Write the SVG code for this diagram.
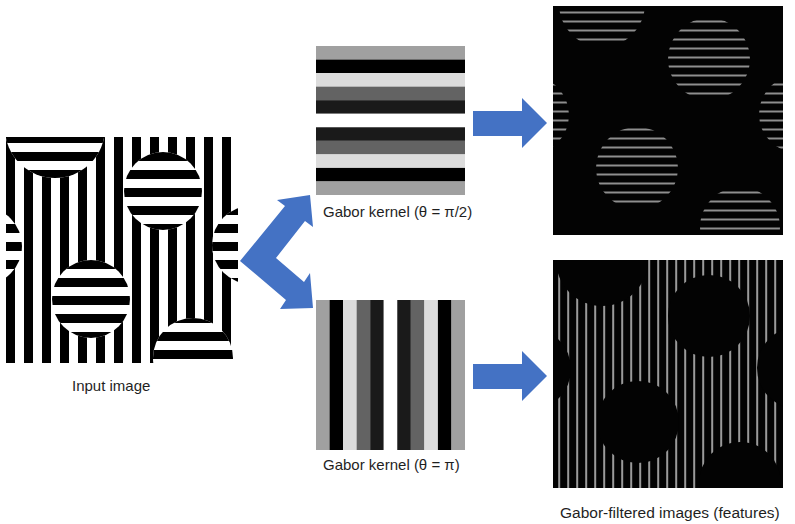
<svg xmlns="http://www.w3.org/2000/svg" width="795" height="524" viewBox="0 0 795 524">
<style>
.lbl{font-family:"Liberation Sans",Arial,sans-serif;font-size:15px;fill:#1f1f1f}
.arrow{fill:#4472c4}
</style>
<defs>
<pattern id="vstripe" patternUnits="userSpaceOnUse" x="6" y="0" width="18" height="18"><rect width="9" height="18" fill="#000"/></pattern>
<pattern id="hstripe" patternUnits="userSpaceOnUse" x="0" y="8" width="18" height="18"><rect width="18" height="9" fill="#000"/></pattern>
<pattern id="hline" patternUnits="userSpaceOnUse" x="0" y="2.5" width="9" height="9"><rect width="9" height="2" fill="#8e8e8e"/></pattern>
<pattern id="vline" patternUnits="userSpaceOnUse" x="0.2" y="0" width="9" height="9"><rect width="2" height="9" fill="#9a9a9a"/></pattern>
<clipPath id="clipIn"><rect x="6" y="137" width="232" height="226"/></clipPath>
<clipPath id="clipOutTop"><rect x="553" y="6" width="230" height="229"/></clipPath>
<clipPath id="clipOutBot"><rect x="553" y="260" width="230" height="228"/></clipPath>
<clipPath id="topCircles">
<circle cx="602" cy="4" r="43"/><circle cx="709" cy="59" r="41"/><circle cx="530" cy="115" r="39"/>
<circle cx="798" cy="114" r="39"/><circle cx="637" cy="168" r="41"/><circle cx="740" cy="227" r="40"/>
</clipPath>
<g id="inCircles">
<circle cx="55" cy="128" r="50"/><circle cx="163" cy="191" r="39"/><circle cx="-17" cy="246" r="39"/>
<circle cx="251" cy="245" r="39"/><circle cx="91" cy="299" r="39"/><circle cx="193" cy="358" r="40"/>
</g>
</defs>
<rect width="795" height="524" fill="#fff"/>

<g id="input-image" clip-path="url(#clipIn)">
<rect x="6" y="137" width="232" height="226" fill="#fff"/>
<rect x="6" y="137" width="232" height="226" fill="url(#vstripe)"/>
<use href="#inCircles" fill="#fff"/>
<use href="#inCircles" fill="url(#hstripe)"/>
</g>

<g id="kernel-top">
<rect x="316" y="46" width="149" height="13.6" fill="#a0a0a0"/>
<rect x="316" y="59.55" width="149" height="13.6" fill="#000"/>
<rect x="316" y="73.09" width="149" height="13.6" fill="#dcdcdc"/>
<rect x="316" y="86.64" width="149" height="13.6" fill="#636363"/>
<rect x="316" y="100.18" width="149" height="13.6" fill="#1a1a1a"/>
<rect x="316" y="113.73" width="149" height="13.6" fill="#fff"/>
<rect x="316" y="127.27" width="149" height="13.6" fill="#1a1a1a"/>
<rect x="316" y="140.82" width="149" height="13.6" fill="#636363"/>
<rect x="316" y="154.36" width="149" height="13.6" fill="#dcdcdc"/>
<rect x="316" y="167.91" width="149" height="13.6" fill="#000"/>
<rect x="316" y="181.45" width="149" height="13.55" fill="#a0a0a0"/>
</g>

<g id="kernel-bottom">
<rect x="316" y="300" width="13.6" height="150" fill="#a0a0a0"/>
<rect x="329.55" y="300" width="13.6" height="150" fill="#000"/>
<rect x="343.09" y="300" width="13.6" height="150" fill="#dcdcdc"/>
<rect x="356.64" y="300" width="13.6" height="150" fill="#636363"/>
<rect x="370.18" y="300" width="13.6" height="150" fill="#1a1a1a"/>
<rect x="383.73" y="300" width="13.6" height="150" fill="#fff"/>
<rect x="397.27" y="300" width="13.6" height="150" fill="#1a1a1a"/>
<rect x="410.82" y="300" width="13.6" height="150" fill="#636363"/>
<rect x="424.36" y="300" width="13.6" height="150" fill="#dcdcdc"/>
<rect x="437.91" y="300" width="13.6" height="150" fill="#000"/>
<rect x="451.45" y="300" width="13.55" height="150" fill="#a0a0a0"/>
</g>

<g id="output-top" clip-path="url(#clipOutTop)">
<rect x="553" y="6" width="230" height="229" fill="#030303"/>
<rect x="553" y="6" width="230" height="229" fill="url(#hline)" clip-path="url(#topCircles)"/>
</g>

<g id="output-bottom" clip-path="url(#clipOutBot)">
<rect x="553" y="260" width="230" height="228" fill="#030303"/>
<rect x="553" y="260" width="230" height="228" fill="url(#vline)"/>
<g fill="#030303">
<circle cx="602" cy="260" r="46"/><circle cx="709" cy="316" r="41"/><circle cx="530" cy="369" r="41"/>
<circle cx="798" cy="368" r="41"/><circle cx="638" cy="422" r="41"/><circle cx="740" cy="483" r="41"/>
</g>
</g>

<g id="connectors">
<polygon class="arrow" points="240,261 285,206 277,200 310,195 313,227 305,221 276,258 304,282 310,273 313,308 280,309 286,300"/>
<polygon class="arrow" points="473,111 522,111 522,98 547,123 522,148 522,136 473,136"/>
<polygon class="arrow" points="473,364 522,364 522,351 547,376 522,401 522,389 473,389"/>
</g>

<g id="labels">
<text class="lbl" x="72" y="391">Input image</text>
<text class="lbl" x="323" y="217">Gabor kernel (θ = π/2)</text>
<text class="lbl" x="323" y="470">Gabor kernel (θ = π)</text>
<text class="lbl" x="560" y="518" style="font-size:15.5px">Gabor-filtered images (features)</text>
</g>
</svg>
